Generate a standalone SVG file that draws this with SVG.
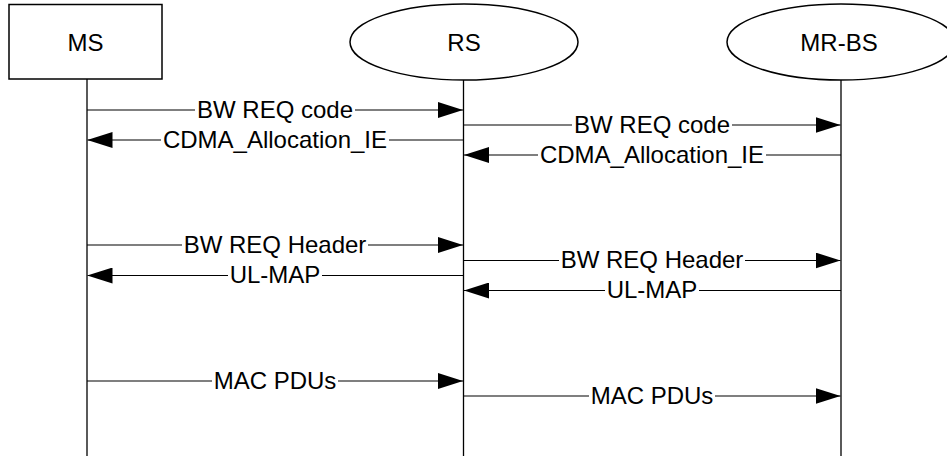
<svg xmlns="http://www.w3.org/2000/svg" width="947" height="456" viewBox="0 0 947 456">
<style>
.node{fill:#fff;stroke:#000;stroke-width:1.5}
.life{stroke:#000;stroke-width:1.3;fill:none}
.msg{stroke:#000;stroke-width:1.2;fill:none;marker-end:url(#ah)}
.bg{fill:#fff;stroke:none}
text{font-family:"Liberation Sans",Arial,sans-serif;font-size:24px;fill:#000;text-anchor:middle}
</style>
<defs>
<marker id="ah" markerUnits="userSpaceOnUse" markerWidth="25" markerHeight="16" refX="25" refY="8" orient="auto">
<path d="M0,0 L25,8 L0,16 z" fill="#000"/>
</marker>
</defs>
<rect width="947" height="456" fill="#fff"/>
<g id="lifelines">
<line class="life" x1="87" y1="79" x2="87" y2="456"/>
<line class="life" x1="463.5" y1="80" x2="463.5" y2="456"/>
<line class="life" x1="841" y1="80" x2="841" y2="456"/>
</g>
<g id="MS">
<rect class="node" x="9" y="4.5" width="153" height="74.5"/>
<text x="85.5" y="50.5">MS</text>
</g>
<g id="RS">
<ellipse class="node" cx="464" cy="42" rx="114" ry="38"/>
<text x="464" y="50.5">RS</text>
</g>
<g id="MR-BS">
<ellipse class="node" cx="841" cy="42" rx="114" ry="38"/>
<text x="839" y="50.5">MR-BS</text>
</g>
<g id="connectors">
<line class="msg" x1="87" y1="110" x2="463" y2="110"/>
<rect class="bg" x="195" y="100" width="160" height="20"/>
<text x="275" y="117.5">BW REQ code</text>

<line class="msg" x1="463.5" y1="140" x2="87.5" y2="140"/>
<rect class="bg" x="161" y="130" width="228" height="20"/>
<text x="275" y="147.5">CDMA_Allocation_IE</text>

<line class="msg" x1="463.5" y1="125" x2="840.5" y2="125"/>
<rect class="bg" x="572" y="115" width="160" height="20"/>
<text x="652" y="132.5">BW REQ code</text>

<line class="msg" x1="841" y1="155" x2="464" y2="155"/>
<rect class="bg" x="538" y="145" width="228" height="20"/>
<text x="652" y="162.5">CDMA_Allocation_IE</text>

<line class="msg" x1="87" y1="245" x2="463" y2="245"/>
<rect class="bg" x="182" y="235" width="186" height="20"/>
<text x="275" y="252.5">BW REQ Header</text>

<line class="msg" x1="463.5" y1="275.5" x2="87.5" y2="275.5"/>
<rect class="bg" x="228" y="265.5" width="94" height="20"/>
<text x="275" y="283">UL-MAP</text>

<line class="msg" x1="463.5" y1="260.5" x2="840.5" y2="260.5"/>
<rect class="bg" x="559" y="250.5" width="186" height="20"/>
<text x="652" y="268">BW REQ Header</text>

<line class="msg" x1="841" y1="290.5" x2="464" y2="290.5"/>
<rect class="bg" x="605" y="280.5" width="94" height="20"/>
<text x="652" y="298">UL-MAP</text>

<line class="msg" x1="87" y1="381" x2="463" y2="381"/>
<rect class="bg" x="212" y="371" width="126" height="20"/>
<text x="275" y="388.5">MAC PDUs</text>

<line class="msg" x1="463.5" y1="396" x2="840.5" y2="396"/>
<rect class="bg" x="589" y="386" width="126" height="20"/>
<text x="652" y="403.5">MAC PDUs</text>
</g>
</svg>
